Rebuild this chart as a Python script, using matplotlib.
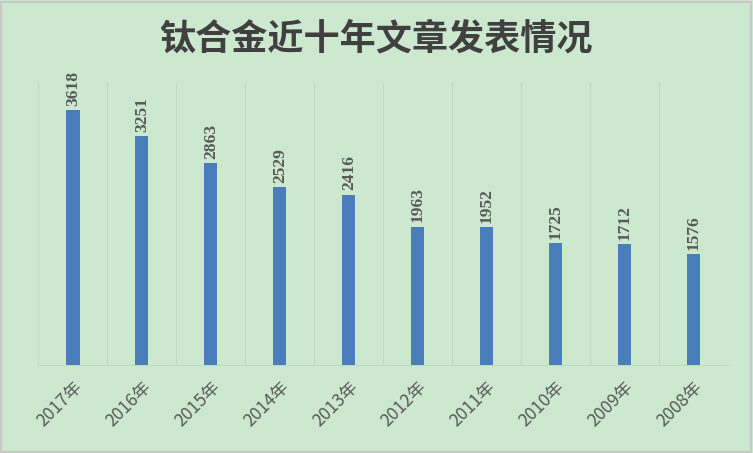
#!/usr/bin/env python3
# Bar chart: titanium alloy papers per year, last ten years

from matplotlib import pyplot as plt
from matplotlib.patches import Rectangle

import numpy as np

years = ['2017年', '2016年', '2015年', '2014年', '2013年',
         '2012年', '2011年', '2010年', '2009年', '2008年']
counts = [3618, 3251, 2863, 2529, 2416, 1963, 1952, 1725, 1712, 1576]

TITLE = '钛合金近十年文章发表情况'
BG = '#CCE8CF'
BAR = '#4A7EBB'
TEXT = '#595959'


def main():
    plt.rcParams['font.family'] = ['Noto Sans CJK SC', 'DejaVu Sans']

    fig = plt.figure(figsize=(7.53, 4.53), dpi=100, facecolor=BG)
    fig.patches.append(Rectangle((0.001, 0.002), 0.996, 0.994,
                                 transform=fig.transFigure, fill=False,
                                 edgecolor='#C8C8C8', linewidth=1.5))
    ax = fig.add_axes([0.0511, 0.1943, 0.9157, 0.6225])
    ax.set_facecolor(BG)

    x = np.arange(len(years))
    bars = ax.bar(x, counts, width=0.19, color=BAR, zorder=3)

    for rect, val in zip(bars, counts):
        ax.annotate(str(val),
                    (rect.get_x() + rect.get_width() / 2, rect.get_height()),
                    xytext=(0, 3), textcoords='offset points',
                    rotation=90, ha='center', va='bottom',
                    fontsize=12.5, fontweight='bold', color=TEXT,
                    family='Liberation Serif')

    ax.set_xlim(-0.5, len(years) - 0.5)
    ax.set_ylim(0, 4000)

    # faint vertical separators between categories
    for b in np.arange(-0.5, len(years), 1.0):
        ax.axvline(b, color='#C0DAC3', linewidth=0.8, zorder=1)

    for side in ['left', 'right', 'top']:
        ax.spines[side].set_visible(False)
    ax.spines['bottom'].set_color('#C0DAC3')
    ax.set_yticks([])
    ax.set_xticks(x)
    ax.set_xticklabels(years, rotation=45, ha='right',
                       rotation_mode='anchor', fontsize=12.5, color=TEXT)
    ax.tick_params(axis='x', length=0, pad=9)

    fig.text(0.5, 0.915, TITLE, ha='center', va='center',
             fontsize=26, color='#404040', fontweight='bold')

    fig.savefig('out.png', dpi=100, facecolor=BG)


if __name__ == '__main__':
    main()
